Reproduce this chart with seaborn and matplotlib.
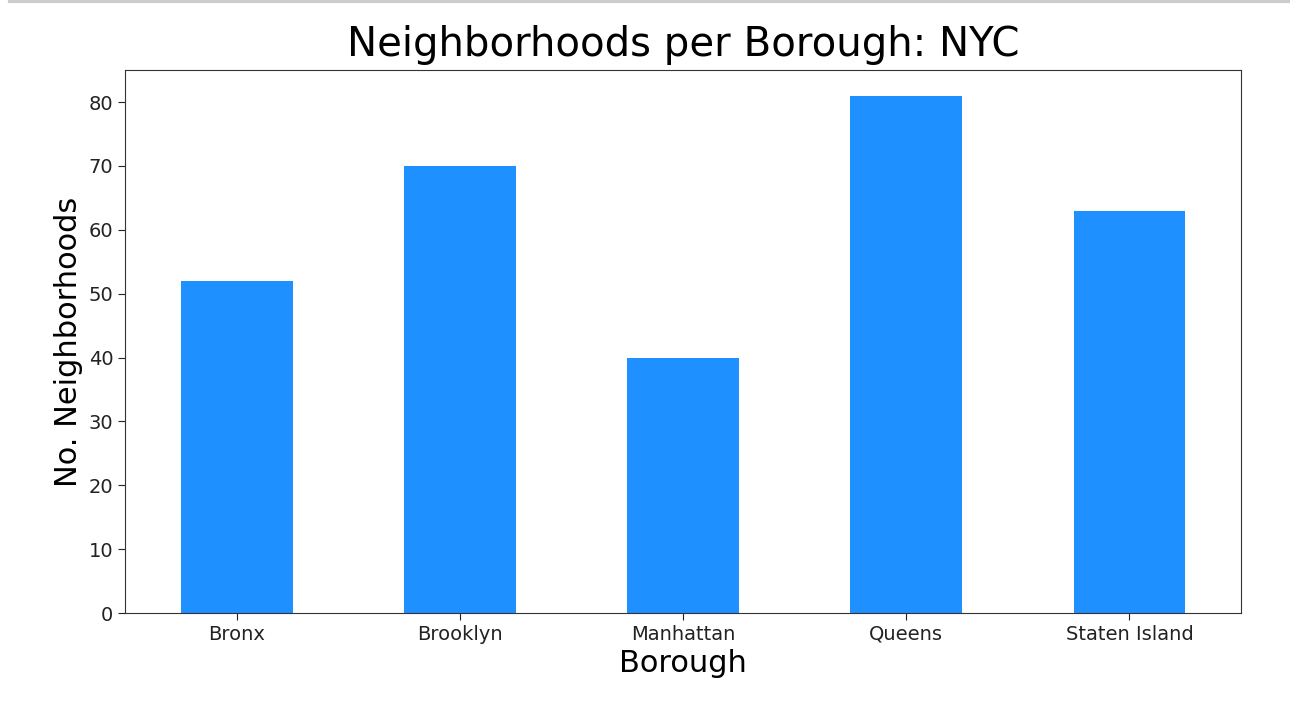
#import
import matplotlib
matplotlib.use('Agg')
import matplotlib.pyplot as plt
from matplotlib.lines import Line2D
import seaborn as sns
import pandas as pd

#data
boroughs = ['Bronx', 'Brooklyn', 'Manhattan', 'Queens', 'Staten Island']
n_neighborhoods = [52, 70, 40, 81, 63]
yticks = [0, 10, 20, 30, 40, 50, 60, 70, 80]

df = pd.DataFrame({'Borough': boroughs, 'Neighborhoods': n_neighborhoods})

#plot
fig = plt.figure(figsize=(12.9, 7.08), dpi=100)
ax = fig.add_axes([0.097, 0.134, 0.865, 0.767])
sns.barplot(data=df, x='Borough', y='Neighborhoods', color='dodgerblue',
            saturation=1, width=0.5, ax=ax)

ax.set_xlim(-0.5, 4.5)
ax.set_ylim(0, 85)
ax.set_yticks(yticks)
ax.tick_params(labelsize=14, colors='#222222', length=5)
ax.set_title('Neighborhoods per Borough: NYC', fontsize=29, pad=10)
ax.set_xlabel('Borough', fontsize=22, labelpad=4)
ax.set_ylabel('No. Neighborhoods', fontsize=22)
for s in ax.spines.values():
    s.set_color('#333333')

#top border line of the notebook cell
fig.add_artist(Line2D([0.008, 1.0], [0.998, 0.998], color='#cccccc', lw=3,
                      transform=fig.transFigure))

fig.savefig('out.png', dpi=100)
